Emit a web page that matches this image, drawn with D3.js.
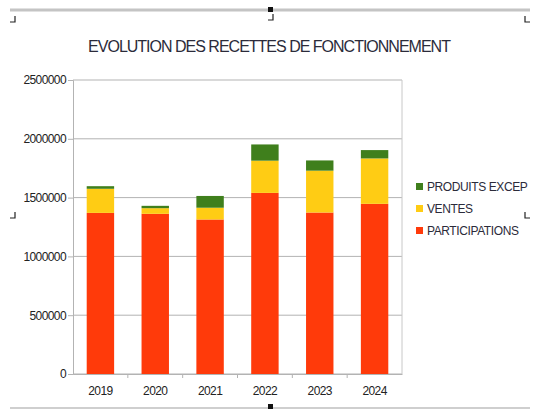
<!DOCTYPE html>
<html>
<head>
<meta charset="utf-8">
<script src="https://cdn.jsdelivr.net/npm/d3@7"></script>
<style>
  body { margin: 0; background: #fff; }
  svg text { font-family: "Liberation Sans Narrow", "Liberation Sans", Arial, sans-serif; }
</style>
</head>
<body>
<div id="chart"></div>
<script>
// data
var years = ["2019", "2020", "2021", "2022", "2023", "2024"];
var participations = [1370000, 1362000, 1314000, 1540000, 1373000, 1447000];
var ventes = [205000, 48000, 100000, 274000, 356000, 386000];
var produitsExcep = [22000, 20000, 100000, 138000, 87000, 71000];
var seriesKeys = ["PARTICIPATIONS", "VENTES", "PRODUITS EXCEP"];
var seriesColors = ["#ff3a0a", "#ffcc14", "#3f7f1c"];
var yTicks = [0, 500000, 1000000, 1500000, 2000000, 2500000];

var W = 536, H = 412,
    margin = {top: 80, right: 134, bottom: 38, left: 73},
    width = W - margin.left - margin.right,
    height = H - margin.top - margin.bottom;

var table = years.map(function(y, i) {
  return {year: y, "PARTICIPATIONS": participations[i], "VENTES": ventes[i], "PRODUITS EXCEP": produitsExcep[i]};
});

var svg0 = d3.select("#chart").append("svg").attr("width", W).attr("height", H);

// frame of the pasted picture
svg0.append("line").attr("x1", 10).attr("x2", 530).attr("y1", 10).attr("y2", 10)
  .attr("stroke", "#c4c4c4").attr("stroke-width", 3);
svg0.append("line").attr("x1", 10).attr("x2", 530).attr("y1", 408).attr("y2", 408)
  .attr("stroke", "#cfcfcf").attr("stroke-width", 2);
svg0.append("rect").attr("x", 268).attr("y", 7).attr("width", 5).attr("height", 5).attr("fill", "#111");
svg0.append("rect").attr("x", 268).attr("y", 404).attr("width", 5).attr("height", 5).attr("fill", "#111");
var marks = [[10, 16, 1], [530, 16, -1], [268, 14, 1], [10, 212, 1], [530, 212, -1]];
marks.forEach(function(m) {
  svg0.append("path")
    .attr("d", "M" + (m[0] + 5 * m[2]) + "," + m[1] + " L" + (m[0] + 5 * m[2]) + "," + (m[1] + 6) + " L" + m[0] + "," + (m[1] + 6))
    .attr("fill", "none").attr("stroke", "#222").attr("stroke-width", 1.2);
});

var svg = svg0.append("g").attr("transform", "translate(" + margin.left + "," + margin.top + ")");

var x = d3.scaleBand().domain(years).range([0, width]).paddingInner(0.5).paddingOuter(0.25);
var y = d3.scaleLinear().domain([0, 2500000]).range([height, 0]);
var color = d3.scaleOrdinal().domain(seriesKeys).range(seriesColors);

// grid
svg.selectAll(".grid").data(yTicks).enter().append("line")
  .attr("x1", 0).attr("x2", width)
  .attr("y1", function(d) { return y(d); }).attr("y2", function(d) { return y(d); })
  .attr("stroke", "#b3b3b3").attr("stroke-width", 1);
svg.append("line").attr("x1", width).attr("x2", width).attr("y1", 0).attr("y2", height)
  .attr("stroke", "#c8c8c8");

var stack = d3.stack().keys(seriesKeys);
var layers = stack(table);

svg.selectAll(".layer").data(layers).enter().append("g")
  .attr("class", "layer")
  .attr("fill", function(d) { return color(d.key); })
  .selectAll("rect").data(function(d) { return d; }).enter().append("rect")
  .attr("x", function(d) { return x(d.data.year); })
  .attr("y", function(d) { return y(d[1]); })
  .attr("width", x.bandwidth())
  .attr("height", function(d) { return y(d[0]) - y(d[1]); });

// axes
var yAxis = svg.append("g").call(d3.axisLeft(y).tickValues(yTicks).tickSize(5).tickPadding(2).tickFormat(d3.format("d")));
yAxis.select(".domain").attr("stroke", "#b3b3b3");
yAxis.selectAll(".tick line").attr("stroke", "#b3b3b3");
yAxis.selectAll("text").attr("fill", "#222").attr("font-size", 12).attr("letter-spacing", "-0.6");

var xAxis = svg.append("g").attr("transform", "translate(0," + height + ")")
  .call(d3.axisBottom(x).tickSize(0).tickPadding(12));
xAxis.select(".domain").attr("stroke", "#b3b3b3");
xAxis.selectAll("text").attr("fill", "#222").attr("font-size", 12).attr("letter-spacing", "-0.6");
// separators between categories
svg.selectAll(".sep").data(years.slice(1)).enter().append("line")
  .attr("x1", function(d) { return x(d) - x.step() * x.paddingInner() / 2; })
  .attr("x2", function(d) { return x(d) - x.step() * x.paddingInner() / 2; })
  .attr("y1", height).attr("y2", height + 4)
  .attr("stroke", "#b3b3b3");

// title
svg0.append("text").attr("x", 269).attr("y", 52).attr("text-anchor", "middle")
  .attr("font-size", 16).attr("fill", "#2b2b3a").attr("letter-spacing", "-1.0")
  .text("EVOLUTION DES RECETTES DE FONCTIONNEMENT");

// legend
var legend = svg0.append("g").attr("transform", "translate(416,187)");
var legendKeys = seriesKeys.slice().reverse();
legend.selectAll("rect").data(legendKeys).enter().append("rect")
  .attr("x", 0).attr("y", function(d, i) { return i * 22 - 4; })
  .attr("width", 7).attr("height", 7)
  .attr("fill", function(d) { return color(d); });
legend.selectAll("text").data(legendKeys).enter().append("text")
  .attr("x", 11).attr("y", function(d, i) { return i * 22 + 4; })
  .attr("font-size", 12).attr("fill", "#2b2b3a").attr("letter-spacing", "-0.4")
  .text(function(d) { return d; });
</script>
</body>
</html>
